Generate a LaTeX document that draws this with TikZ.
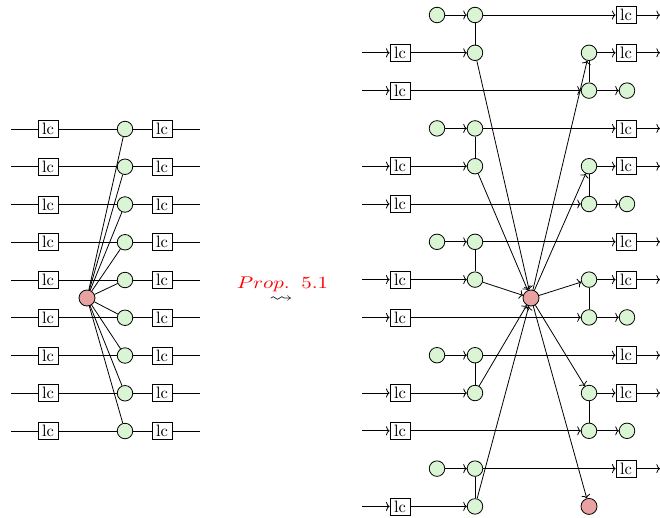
\documentclass[tikz,border=0pt]{standalone}
\usepackage{amssymb}
\usepackage{graphicx}
\usetikzlibrary{arrows.meta}
\definecolor{grn}{RGB}{217,245,211}
\definecolor{rd}{RGB}{232,162,162}
\newcommand\lcT{\scalebox{1.65}{lc}}
\begin{document}
\begin{tikzpicture}[x=1pt,y=-1pt,
  every path/.style={line width=0.8pt},
  >={To[length=3.6pt,width=9pt]},
  gc/.style={circle,draw,fill=grn,minimum size=15.5pt,inner sep=0pt},
  rc/.style={circle,draw,fill=rd,minimum size=16pt,inner sep=0pt},
  lcbox/.style={draw,fill=white,minimum width=20pt,minimum height=17pt,inner sep=0pt}]
\useasboundingbox (0,0) rectangle (660,517);
% ---------- left part ----------
\node[rc] (Lr) at (87,298) {};
\foreach \i in {0,...,8} {
  \pgfmathsetmacro\y{129+37.75*\i}
  \coordinate (Ls\i) at (11,\y);
  \coordinate (Le\i) at (200,\y);
  \node[lcbox] (La\i) at (48,\y) {\lcT};
  \node[gc] (Lg\i) at (125,\y) {};
  \node[lcbox] (Lb\i) at (162,\y) {\lcT};
  \draw (Ls\i) -- (La\i) -- (Lg\i) -- (Lb\i) -- (Le\i);
  \draw (Lr) -- (Lg\i);
}
% ---------- label ----------
\node[text=red,inner sep=0pt,anchor=base] (P) at (282.5,288.5) {\scalebox{2.1}[1.7]{$Prop.$\hspace{5.5pt}$5.1$}};
\node[inner sep=0pt] (sq) at (281,299) {\scalebox{2.35}[1.6]{$\rightsquigarrow$}};
% ---------- right part ----------
\node[rc] (R) at (531,298) {};
\foreach \g in {0,...,3} {
  \pgfmathsetmacro\ya{15+37.8*(3*\g)}
  \pgfmathsetmacro\yb{\ya+37.8}
  \pgfmathsetmacro\yc{\ya+75.6}
  \node[gc] (s\g) at (437,\ya) {};
  \node[gc] (a\g) at (475,\ya) {};
  \node[lcbox] (o\g) at (626,\ya) {\lcT};
  \coordinate (oe\g) at (660,\ya);
  \draw[->] (s\g) -- (a\g);
  \draw[->] (a\g) -- (o\g);
  \draw[->] (o\g) -- (oe\g);
  \coordinate (ib\g) at (362,\yb);
  \node[lcbox] (ibx\g) at (400,\yb) {\lcT};
  \node[gc] (b\g) at (475,\yb) {};
  \draw[->] (ib\g) -- (ibx\g);
  \draw[->] (ibx\g) -- (b\g);
  \draw (a\g) -- (b\g);
  \node[gc] (c\g) at (589,\yb) {};
  \node[lcbox] (co\g) at (626,\yb) {\lcT};
  \coordinate (coe\g) at (660,\yb);
  \draw[->] (c\g) -- (co\g);
  \draw[->] (co\g) -- (coe\g);
  \coordinate (ic\g) at (362,\yc);
  \node[lcbox] (icx\g) at (400,\yc) {\lcT};
  \node[gc] (d\g) at (589,\yc) {};
  \node[gc] (e\g) at (627,\yc) {};
  \draw[->] (ic\g) -- (icx\g);
  \draw[->] (icx\g) -- (d\g);
  \draw[->] (d\g) -- (e\g);
  \draw (c\g) -- (d\g);
  \draw[->] (b\g) -- (R);
  \draw[->] (R) -- (c\g);
}
% last group
\node[gc] (s4) at (437,468.6) {};
\node[gc] (a4) at (475,468.6) {};
\node[lcbox] (o4) at (626,468.6) {\lcT};
\coordinate (oe4) at (660,468.6);
\draw[->] (s4) -- (a4);
\draw[->] (a4) -- (o4);
\draw[->] (o4) -- (oe4);
\coordinate (ib4) at (362,506.4);
\node[lcbox] (ibx4) at (400,506.4) {\lcT};
\node[gc] (b4) at (475,506.4) {};
\draw[->] (ib4) -- (ibx4);
\draw[->] (ibx4) -- (b4);
\draw (a4) -- (b4);
\node[rc] (R2) at (589,506.4) {};
\draw[->] (b4) -- (R);
\draw[->] (R) -- (R2);
\end{tikzpicture}
\end{document}
